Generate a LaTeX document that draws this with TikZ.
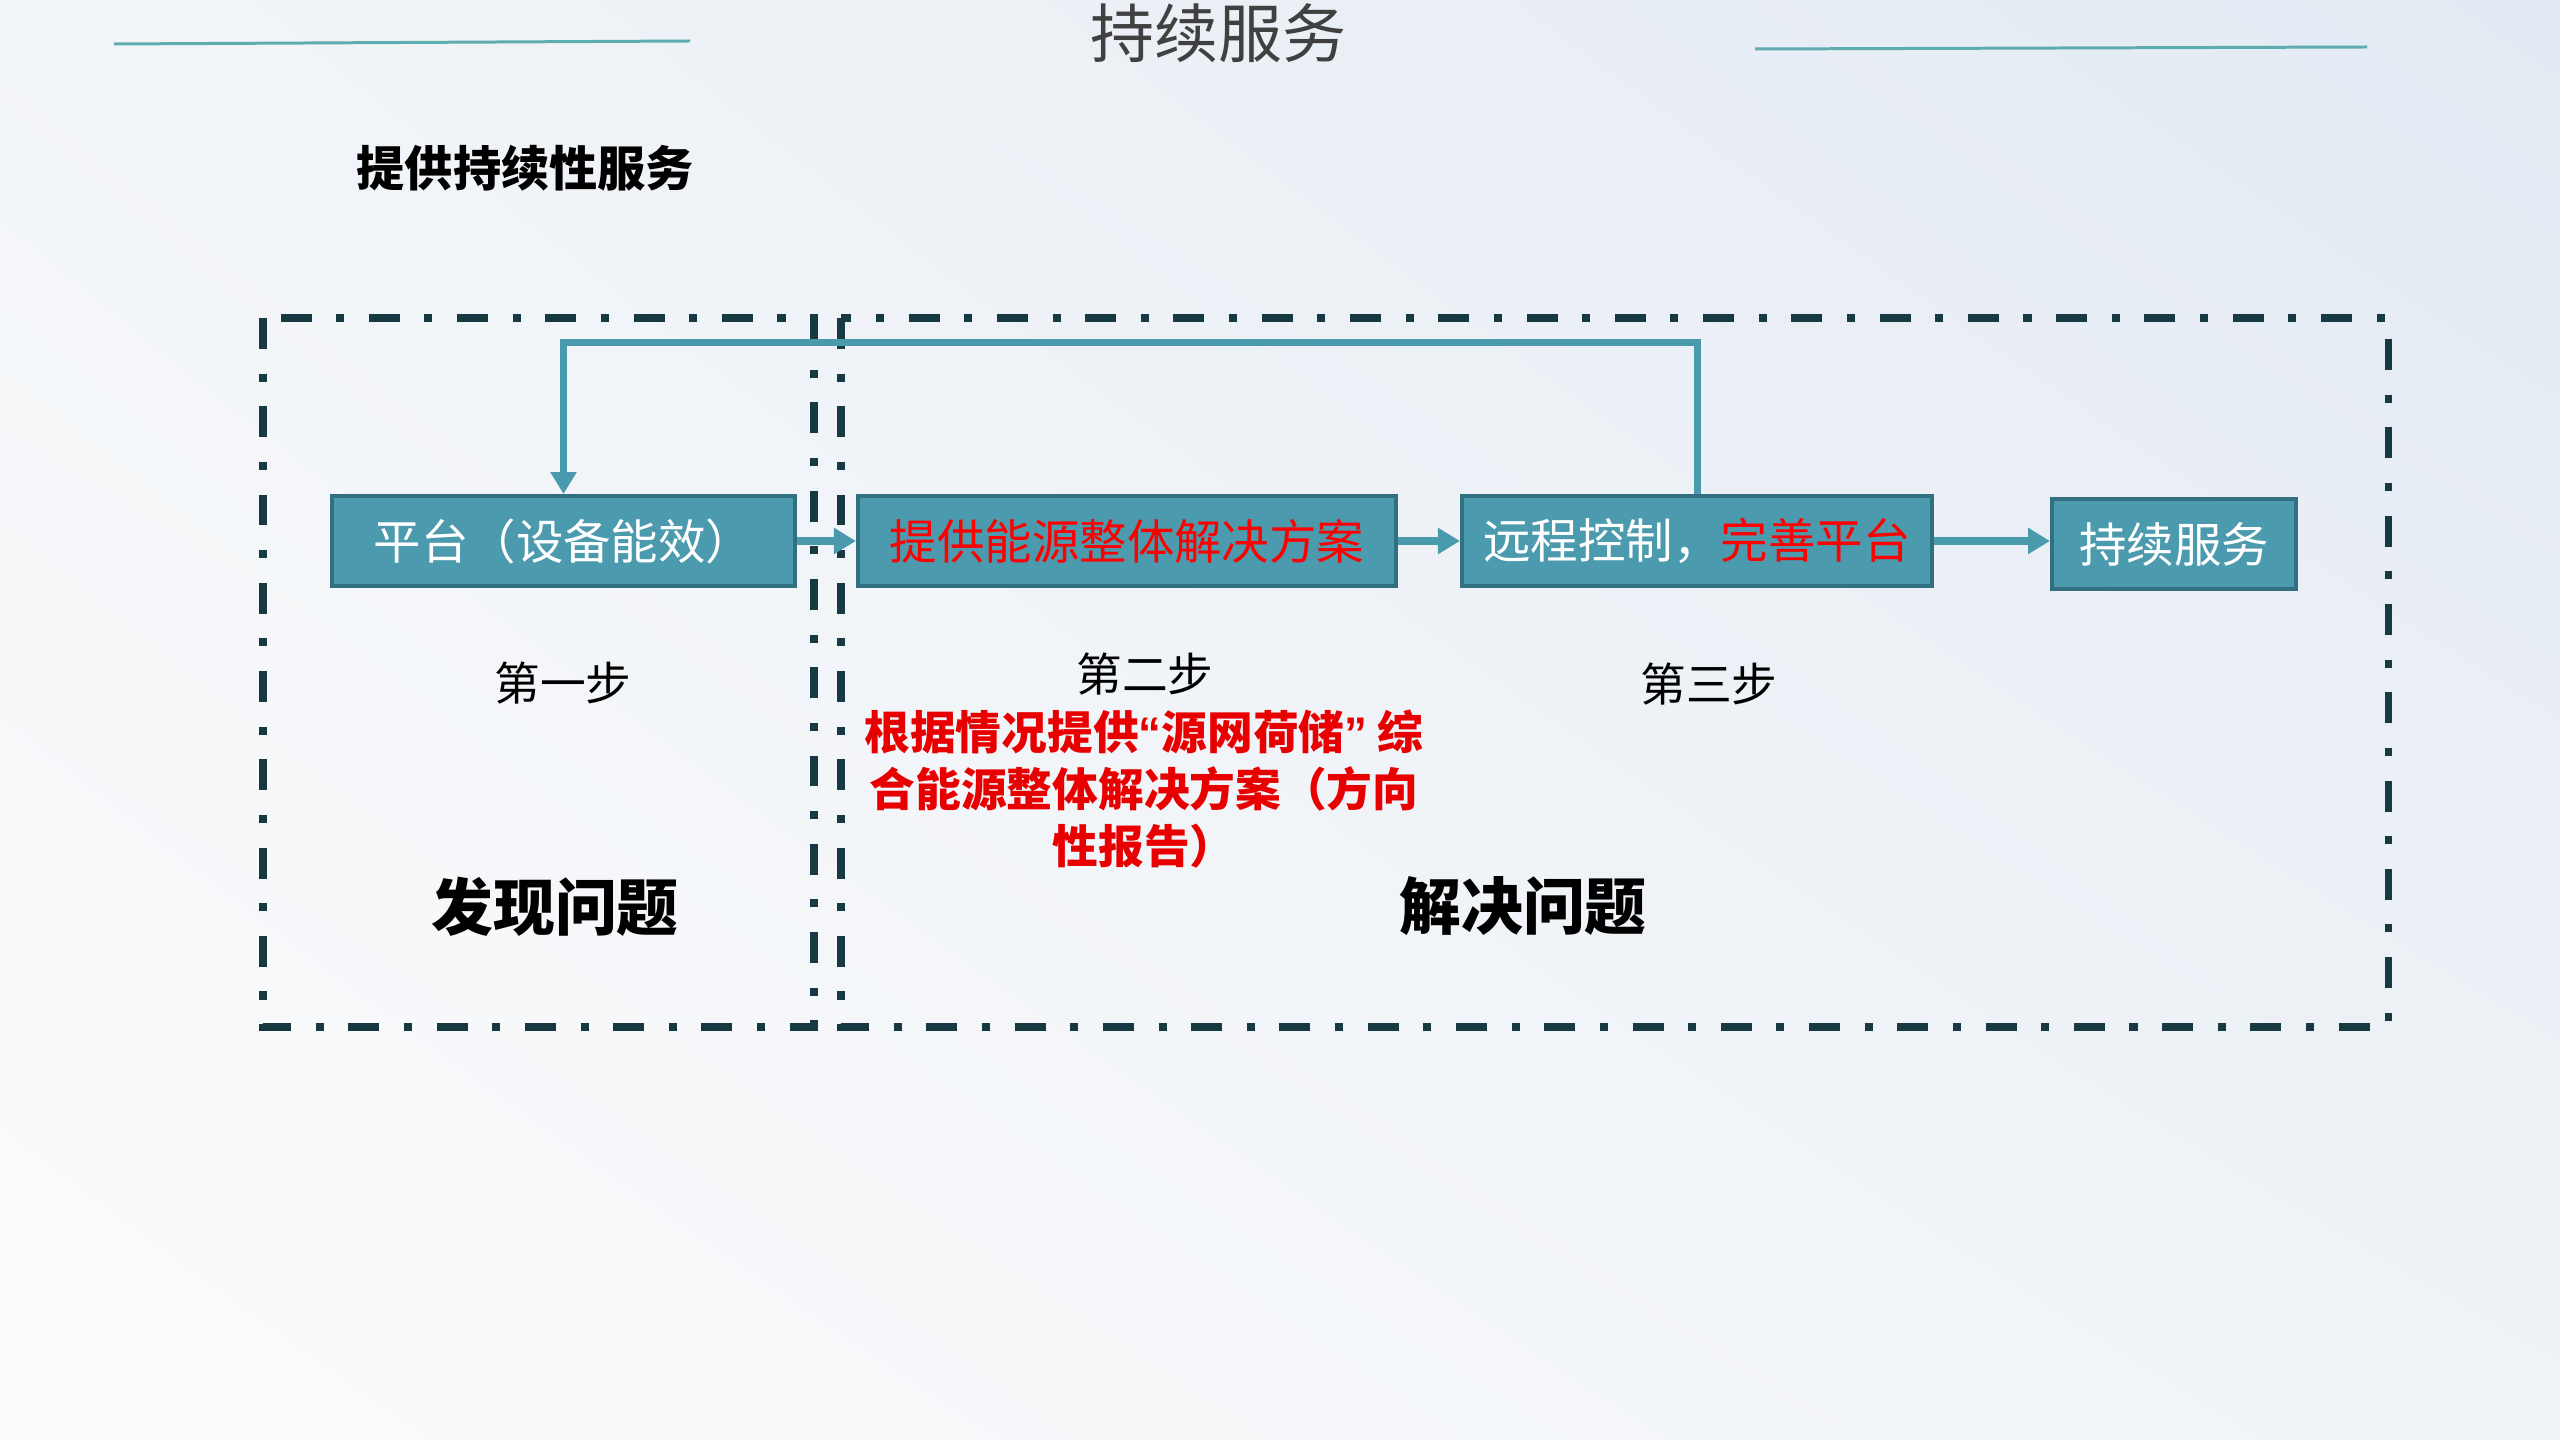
\documentclass[tikz,border=0pt]{standalone}
\usepackage{fontspec}
\setmainfont{Noto Sans CJK SC}
\newfontfamily\quotefont{Liberation Sans}
\usetikzlibrary{arrows.meta, shadings}

\definecolor{frameclr}{RGB}{23,58,66}
\definecolor{boxfill}{RGB}{75,154,174}
\definecolor{boxedge}{RGB}{48,112,128}
\definecolor{flowclr}{RGB}{74,154,173}
\definecolor{decoclr}{RGB}{92,172,176}
\definecolor{titleclr}{RGB}{64,64,64}
\definecolor{notered}{RGB}{232,0,0}
\definecolor{bgul}{RGB}{242,245,248}
\definecolor{bgur}{RGB}{227,234,243}
\definecolor{bgll}{RGB}{252,252,253}
\definecolor{bglr}{RGB}{239,243,247}

\begin{document}
\begin{tikzpicture}[x=0.01cm, y=-0.01cm,
    frame/.style={line width=2pt, frameclr, dash pattern=on 8.8pt off 7pt on 2.3pt off 7pt},
    procbox/.style={draw=boxedge, fill=boxfill, line width=1.1pt, minimum height=0.9cm,
        inner sep=0pt, text=white, font=\fontsize{13.5}{16}\selectfont},
    flow/.style={line width=2pt, flowclr, -{Triangle[length=0.22cm, width=0.25cm]}},
    steplbl/.style={inner sep=0pt, font=\fontsize{13}{16}\selectfont},
    phaselbl/.style={inner sep=0pt, font=\fontsize{17.6}{20}\selectfont\bfseries},
    deco/.style={line width=0.85pt, decoclr}]
    % background
    \shade[upper left=bgul, upper right=bgur, lower left=bgll, lower right=bglr]
        (0,0) rectangle (2560,1440);

    % title
    \node[inner sep=0pt, titleclr, font=\fontsize{18.2}{20}\selectfont] (title) at (1218,33) {持续服务};
    \draw[deco] (114,44) -- (690,41);
    \draw[deco] (1755,49) -- (2367,47);
    \node[anchor=west, inner sep=0pt, font=\fontsize{13.7}{16}\selectfont\bfseries] (sub) at (356,168) {提供持续性服务};

    % frames
    \draw[frame] (263,318) rectangle (814,1027);
    \draw[frame] (841,318) rectangle (2388,1027);

    % boxes
    \node[procbox, minimum width=4.63cm] (plat) at (563.5,541) {平台（设备能效）};
    \node[procbox, minimum width=5.38cm] (plan) at (1127,541) {\textcolor{red}{提供能源整体解决方案}};
    \node[procbox, minimum width=4.70cm] (remote) at (1697,541) {远程控制，\textcolor{red}{完善平台}};
    \node[procbox, minimum width=2.44cm] (serve) at (2174,544) {持续服务};

    \draw[flow] (plat) -- (plan);
    \draw[flow] (plan) -- (remote);
    \draw[flow] (remote.east) -- (serve.west |- remote.east);
    \draw[flow] (remote.north) -- ++(0,-152) -| (plat.north);

    % labels
    \node[steplbl] (step1) at (563,683) {第一步};
    \node[steplbl] (step2) at (1145,674) {第二步};
    \node[steplbl] (step3) at (1709,684) {第三步};
    \node[inner sep=0pt, notered, align=center, font=\fontsize{13}{16.2}\selectfont\bfseries] (note) at (1144,789)
        {根据情况提供{\quotefont “}源网荷储{\quotefont ”} 综\\合能源整体解决方案（方向\\性报告）};
    \node[phaselbl] (find) at (555,907) {发现问题};
    \node[phaselbl] (solve) at (1523,906) {解决问题};
\end{tikzpicture}
\end{document}
